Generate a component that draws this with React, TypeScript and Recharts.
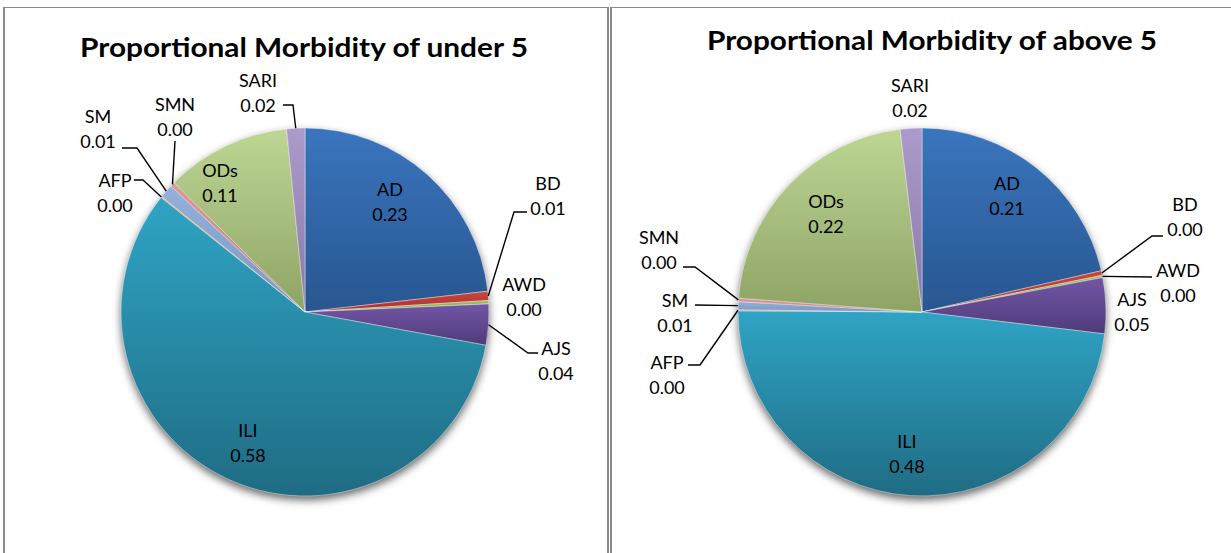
import React from 'react';
import { PieChart, Pie, Cell } from 'recharts';

const categories = ['AD', 'BD', 'AWD', 'AJS', 'ILI', 'AFP', 'SM', 'SMN', 'ODs', 'SARI'];
const under5Values = [0.232, 0.008, 0.003, 0.036, 0.578, 0.001, 0.012, 0.004, 0.110, 0.016];
const above5Values = [0.214, 0.004, 0.002, 0.049, 0.482, 0.001, 0.007, 0.003, 0.219, 0.019];
const chartTitles = ['Proportional Morbidity of under 5', 'Proportional Morbidity of above 5'];

const sliceTop = ['#3a75be', '#c8453f', '#9fc05c', '#7256a6', '#2fa4c5', '#f79646', '#94b1dc', '#de9a97', '#bed694', '#ab9aca'];
const sliceBottom = ['#285690', '#a8332e', '#86a64a', '#4f3b79', '#1f6c83', '#d97d30', '#7a96c2', '#c47f7c', '#8da465', '#8a79a8'];

type LabelLayout = { dx: number; dy: number; lead?: [number, number][] };

const under5Layout: LabelLayout[] = [
  { dx: 85, dy: -111 },
  { dx: 243, dy: -117, lead: [[222, -100], [209, -100]] },
  { dx: 219, dy: -16 },
  { dx: 251, dy: 48, lead: [[233, 41], [223, 41]] },
  { dx: -57, dy: 130 },
  { dx: -190, dy: -120, lead: [[-171, -132], [-162, -132]] },
  { dx: -207, dy: -184, lead: [[-183, -164], [-168, -164]] },
  { dx: -130, dy: -196, lead: [[-130, -171]] },
  { dx: -85, dy: -130 },
  { dx: -47, dy: -220, lead: [[-22, -207], [-12, -207]] },
];

const above5Layout: LabelLayout[] = [
  { dx: 85, dy: -117 },
  { dx: 263, dy: -96, lead: [[241, -76], [230, -76]] },
  { dx: 256, dy: -30, lead: [[230, -35]] },
  { dx: 210, dy: -1 },
  { dx: -15, dy: 141 },
  { dx: -255, dy: 62, lead: [[-234, 53], [-222, 53]] },
  { dx: -247, dy: 0, lead: [[-227, -7]] },
  { dx: -263, dy: -63, lead: [[-239, -45], [-227, -45]] },
  { dx: -96, dy: -99 },
  { dx: -12, dy: -215 },
];

const FONT = 'Lato, "Open Sans", sans-serif';
const RAD = Math.PI / 180;

const makeLabel = (layout: LabelLayout[], values: number[]) => (props: any) => {
  const { cx, cy, midAngle, outerRadius, index } = props;
  const L = layout[index];
  const tx = cx + L.dx;
  const ty = cy + L.dy;
  let leader = null;
  if (L.lead) {
    const ex = cx + outerRadius * Math.cos(-midAngle * RAD);
    const ey = cy + outerRadius * Math.sin(-midAngle * RAD);
    const pts = L.lead.map(([x, y]) => `${cx + x},${cy + y}`).concat(`${ex},${ey}`);
    leader = <polyline points={pts.join(' ')} fill="none" stroke="#000" strokeWidth={1.4} />;
  }
  return (
    <g key={`lbl-${index}`}>
      {leader}
      <text x={tx} y={ty - 12.5} textAnchor="middle" dominantBaseline="central" fontFamily={FONT} fontSize={18} fill="#000">
        {categories[index]}
      </text>
      <text x={tx} y={ty + 13} textAnchor="middle" dominantBaseline="central" fontFamily={FONT} fontSize={18} fill="#000">
        {values[index].toFixed(2)}
      </text>
    </g>
  );
};

const MorbidityPie = ({ values, layout, cx, width, prefix }: { values: number[]; layout: LabelLayout[]; cx: number; width: number; prefix: string }) => {
  const data = categories.map((name, i) => ({ name, value: values[i] }));
  return (
    <PieChart width={width} height={553} margin={{ top: 0, right: 0, bottom: 0, left: 0 }}>
      <Pie
        data={data}
        dataKey="value"
        nameKey="name"
        cx={cx}
        cy={316}
        outerRadius={184}
        startAngle={90}
        endAngle={-270}
        stroke="none"
        isAnimationActive={false}
        label={false}
        labelLine={false}
      >
        {data.map((d) => (
          <Cell key={`sh-${prefix}-${d.name}`} fill="#000" fillOpacity={0.6} filter="url(#pieShadow)" />
        ))}
      </Pie>
      <Pie
        data={data}
        dataKey="value"
        nameKey="name"
        cx={cx}
        cy={312}
        outerRadius={184}
        startAngle={90}
        endAngle={-270}
        stroke="#ffffff"
        strokeWidth={0.4}
        isAnimationActive={false}
        label={makeLabel(layout, values)}
        labelLine={false}
      >
        {data.map((d, i) => (
          <Cell key={`c-${prefix}-${d.name}`} fill={`url(#grad-${i})`} />
        ))}
      </Pie>
    </PieChart>
  );
};

export default function App() {
  return (
    <div style={{ position: 'absolute', left: 0, top: 0, width: 1231, height: 553, overflow: 'hidden', background: '#fff' }}>
      <svg width={1} height={1} style={{ position: 'absolute', left: 0, top: 0 }}>
        <defs>
          {categories.map((c, i) => (
            <linearGradient key={`g-${c}`} id={`grad-${i}`} x1="0" y1="0" x2="0" y2="1">
              <stop offset="0%" stopColor={sliceTop[i]} />
              <stop offset="100%" stopColor={sliceBottom[i]} />
            </linearGradient>
          ))}
          <filter id="pieShadow" x="-20%" y="-20%" width="140%" height="140%">
            <feGaussianBlur stdDeviation="4" />
          </filter>
        </defs>
      </svg>
      <div style={{ position: 'absolute', left: 3, top: 7, width: 602, height: 600, borderLeft: '2px solid #8a8a8a', borderTop: '1.5px solid #8a8a8a', borderRight: '2px solid #8a8a8a' }} />
      <div style={{ position: 'absolute', left: 610, top: 7, width: 700, height: 600, borderLeft: '2px solid #8a8a8a', borderTop: '1.5px solid #8a8a8a' }} />
      <div style={{ position: 'absolute', left: 0, top: 0 }}>
        <MorbidityPie values={under5Values} layout={under5Layout} cx={305} width={606} prefix="u" />
      </div>
      <div style={{ position: 'absolute', left: 612, top: 0 }}>
        <MorbidityPie values={above5Values} layout={above5Layout} cx={310} width={619} prefix="a" />
      </div>
      <svg width={1231} height={553} style={{ position: 'absolute', left: 0, top: 0, pointerEvents: 'none' }}>
        <text x={304} y={57} textAnchor="middle" fontFamily={FONT} fontWeight={700} fontSize={27} fill="#000" textLength={448} lengthAdjust="spacingAndGlyphs">
          {chartTitles[0]}
        </text>
        <text x={932} y={50} textAnchor="middle" fontFamily={FONT} fontWeight={700} fontSize={27} fill="#000" textLength={450} lengthAdjust="spacingAndGlyphs">
          {chartTitles[1]}
        </text>
      </svg>
    </div>
  );
}
